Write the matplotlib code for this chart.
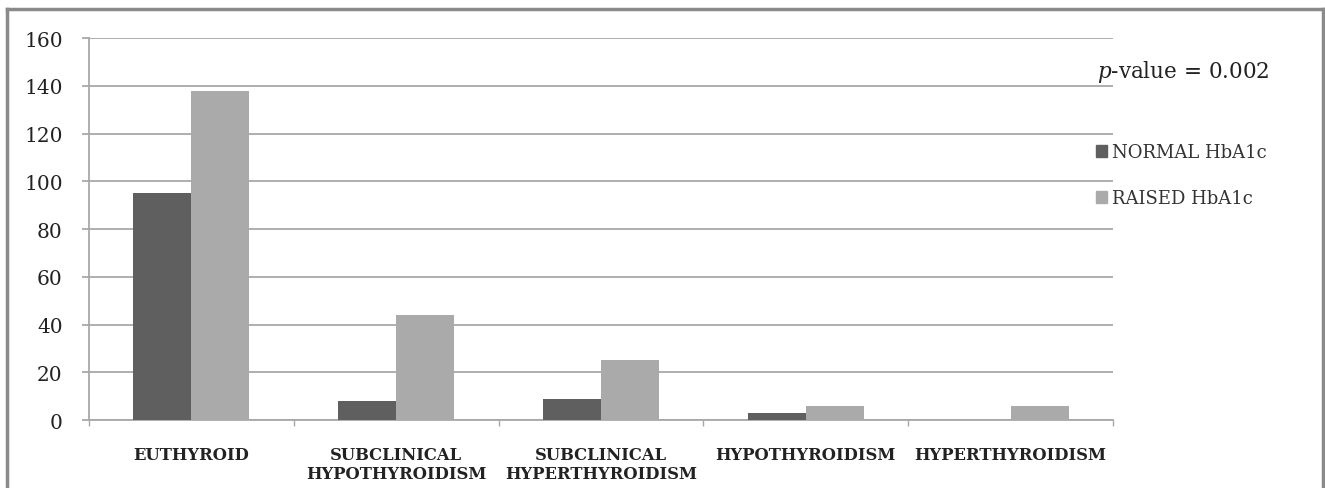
import numpy as np
import matplotlib
matplotlib.use("Agg")
import matplotlib.pyplot as plt
from matplotlib.lines import Line2D
from matplotlib.patches import Patch

categories = ["EUTHYROID", "SUBCLINICAL\nHYPOTHYROIDISM", "SUBCLINICAL\nHYPERTHYROIDISM",
              "HYPOTHYROIDISM", "HYPERTHYROIDISM"]
normal = [95, 8, 9, 3, 0]
raised = [138, 44, 25, 6, 6]
series_names = ["NORMAL HbA1c", "RAISED HbA1c"]
yticks = [0, 20, 40, 60, 80, 100, 120, 140, 160]

plt.rcParams['font.family'] = ['DejaVu Serif']
plt.rcParams['mathtext.fontset'] = 'dejavuserif'

fig = plt.figure(figsize=(13.25, 4.89), dpi=100)
ax = fig.add_axes([0.0672, 0.139, 0.7728, 0.781])

x = np.arange(len(categories))
width = 0.283
ax.bar(x - width / 2, normal, width, color='#5f5f5f', zorder=3)
ax.bar(x + width / 2, raised, width, color='#aaaaaa', zorder=3)

ax.set_xlim(-0.5, len(categories) - 0.5)
ax.set_ylim(0, 160)
ax.set_yticks(yticks)
ax.set_yticklabels([str(t) for t in yticks], fontsize=14.5, color='#222222')
ax.yaxis.grid(True, color='#a8a8a8', linewidth=1.3, zorder=0)
ax.tick_params(axis='y', length=5, color='#a8a8a8', width=1.3, pad=14)

# category labels at centres, tick marks at boundaries
ax.set_xticks(np.arange(len(categories) + 1) - 0.5)
ax.set_xticklabels([])
ax.tick_params(axis='x', length=4, color='#a8a8a8', width=1, direction='out')
for i, c in enumerate(categories):
    ax.text(i, -0.068, c, transform=ax.get_xaxis_transform(), ha='center', va='top',
            fontsize=11.8, fontweight='bold', color='#222222', linespacing=1.15)

for s in ['top', 'right']:
    ax.spines[s].set_visible(False)
ax.spines['left'].set_color('#a8a8a8')
ax.spines['left'].set_linewidth(1.3)
ax.spines['bottom'].set_color('#a8a8a8')
ax.spines['bottom'].set_linewidth(1.3)

handles = [Patch(color='#5f5f5f'), Patch(color='#aaaaaa')]
fig.legend(handles, series_names, loc='upper left', bbox_to_anchor=(0.815, 0.738),
           frameon=False, fontsize=13, handlelength=0.6, handleheight=0.6,
           handletextpad=0.3, labelspacing=1.55, labelcolor='#333333')

fig.text(0.828, 0.852, r"$p$-value = 0.002", fontsize=15.5, color='#222222',
         ha='left', va='center')

# outer frame (left, top, right)
fc = '#8a8a8a'
fig.add_artist(Line2D([0.0055, 0.0055], [0.0, 0.98], transform=fig.transFigure, color=fc, lw=2.5))
fig.add_artist(Line2D([0.0055, 0.9985], [0.98, 0.98], transform=fig.transFigure, color=fc, lw=2.5))
fig.add_artist(Line2D([0.9985, 0.9985], [0.0, 0.98], transform=fig.transFigure, color=fc, lw=2.5))

fig.savefig("out.png", dpi=100)
